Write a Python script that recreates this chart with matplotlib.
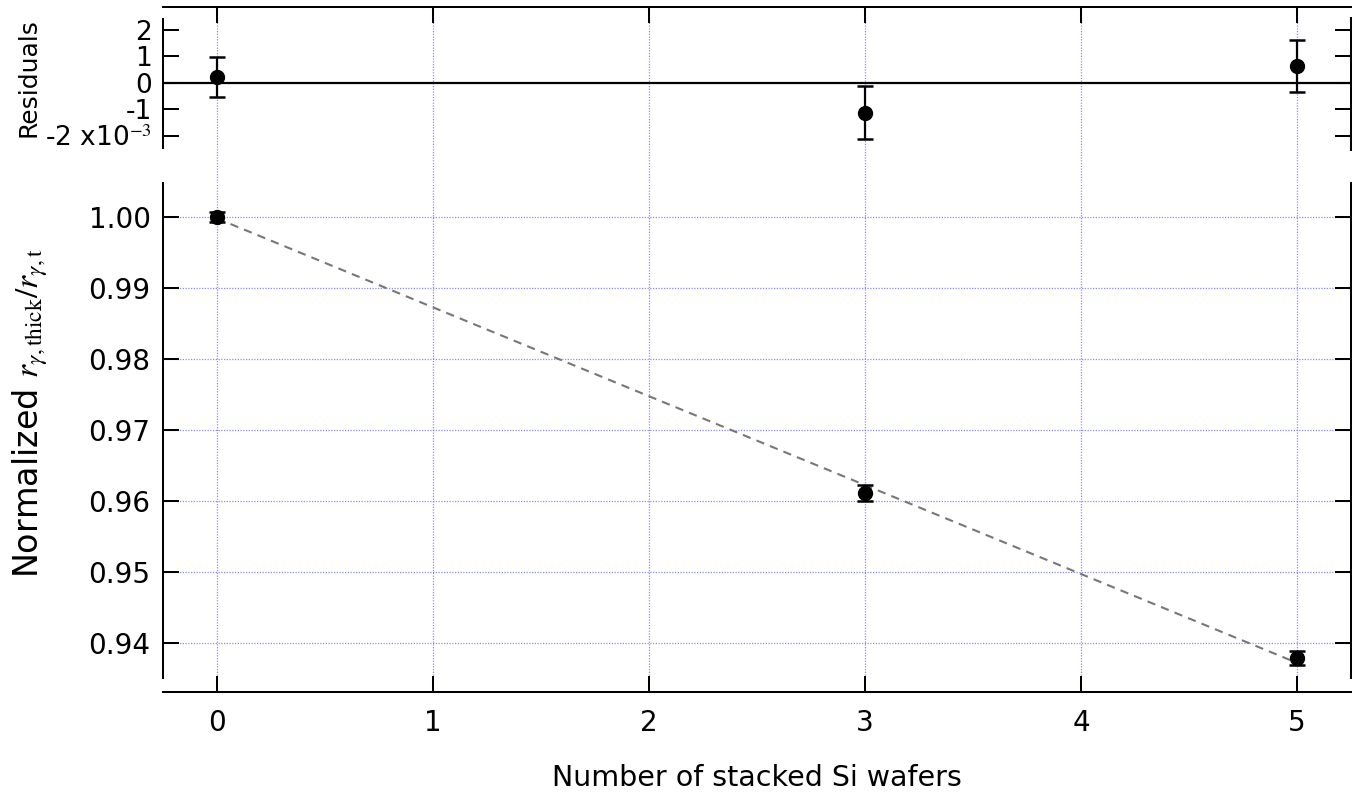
import matplotlib.pyplot as plt

# dados
wafers = [0, 3, 5]
razao = [1.0000, 0.9611, 0.93785]
razao_err = [0.0007, 0.0011, 0.0010]

residuos = [0.23, -1.13, 0.65]        # em unidades de 1e-3
residuos_err = [0.75, 1.0, 0.98]

fit_a = 0.9998
fit_b = -0.01252

x_ticks = [0, 1, 2, 3, 4, 5]
y_ticks = [0.94, 0.95, 0.96, 0.97, 0.98, 0.99, 1.00]
res_ticks = [-2, -1, 0, 1, 2]
res_labels = ["-2 x10$^{-3}$", "-1", "0", "1", "2"]

plt.rcParams['font.family'] = ['DejaVu Sans']
plt.rcParams['mathtext.fontset'] = 'stix'

W, H = 1360, 794
fig = plt.figure(figsize=(W / 100, H / 100), dpi=100)

esq, dir_ = 163 / W, 1351 / W
ax = fig.add_axes([esq, 1 - 678 / H, dir_ - esq, (678 - 183) / H])
axr = fig.add_axes([esq, 1 - 183 / H, dir_ - esq, (183 - 7) / H], sharex=ax)
ax.set_zorder(1)
ax.patch.set_alpha(0)

grid_kw = dict(color=(0.35, 0.35, 1.0), linestyle=(0, (1, 1.2)), linewidth=0.9, alpha=0.7)
tick_len = 11.5
tick_w = 1.45

# painel principal
ax.errorbar(wafers, razao, yerr=razao_err, fmt='o', color='black', ms=10,
            capsize=5.5, elinewidth=1.6, capthick=1.8, zorder=4)
xf = [wafers[0], wafers[-1]]
ax.plot(xf, [fit_a + fit_b * v for v in xf], linestyle=(0, (4, 3)),
        color='#777777', lw=1.5, zorder=3)
ax.set_xlim(-0.25, 5.25)
ax.set_ylim(0.93507, 1.00479)
ax.set_xticks(x_ticks)
ax.set_yticks(y_ticks)
ax.set_yticklabels([f"{v:.2f}" for v in y_ticks])
ax.grid(True, **grid_kw)
ax.set_axisbelow(True)
ax.spines['top'].set_visible(False)
ax.spines['bottom'].set_position(('outward', 10))
for s in ['left', 'right', 'bottom']:
    ax.spines[s].set_linewidth(tick_w)
ax.tick_params(axis='both', direction='in', length=tick_len, width=tick_w, labelsize=20)
ax.tick_params(axis='y', right=True, pad=9)
ax.tick_params(axis='x', pad=12)
ax.set_xlabel("Number of stacked Si wafers", fontsize=20.5, labelpad=20)
ax.set_ylabel(r"Normalized $r_{\gamma,\mathrm{thick}}/r_{\gamma,\mathrm{t}}$", fontsize=24)
ax.yaxis.set_label_coords(-0.095, 0.535)

# painel de residuos
axr.errorbar(wafers, residuos, yerr=residuos_err, fmt='o', color='black', ms=10,
             capsize=5.5, elinewidth=1.6, capthick=1.8, zorder=4)
axr.axhline(0, color='black', lw=1.6, zorder=3)
axr.set_ylim(-3.774, 2.868)
axr.set_yticks(res_ticks)
axr.set_yticklabels(res_labels)
axr.grid(True, axis='x', **grid_kw)
axr.set_axisbelow(True)
axr.spines['bottom'].set_visible(False)
axr.spines['left'].set_bounds(-2.45, 2.4)
axr.spines['right'].set_bounds(-2.53, 2.45)
for s in ['left', 'right', 'top']:
    axr.spines[s].set_linewidth(tick_w)
axr.tick_params(axis='y', direction='in', length=tick_len, width=tick_w, labelsize=19,
                right=True, pad=8)
axr.tick_params(axis='x', direction='in', length=tick_len, width=tick_w, top=True,
                bottom=False, labelbottom=False, labeltop=False)
axr.set_ylabel("Residuals", fontsize=18)
axr.yaxis.set_label_coords(-0.103, 0.6)

fig.savefig("out.png", dpi=100)
